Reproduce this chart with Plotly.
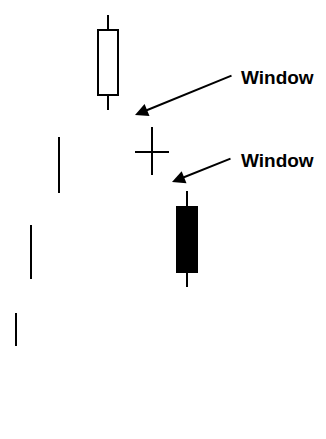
import plotly.graph_objects as go

# candle positions (horizontal) and prices
sessions = [16, 31, 59, 108, 152, 187]
highs = [126, 214, 302, 424, 312, 248]
lows = [93, 160, 246, 329, 264, 152]
opens = [110, 187, 274, 344, 287, 232]
closes = [110, 187, 274, 409, 287, 167]
kinds = ["line", "line", "line", "body", "doji", "body"]

# "Window" callouts: arrow head and tail, label position
arrow_head_x = [135, 172]
arrow_head_y = [324, 257]
arrow_tail_x = [233, 232]
arrow_tail_y = [364, 281]
label_x = [239, 239]
label_y = [362, 279]
labels = ["Window", "Window"]

BODY_W = 20
DOJI_W = 34

fig = go.Figure()

# wicks - split above and below the body so they don't cross white bodies
wx, wy = [], []
for x, h, l, o, c in zip(sessions, highs, lows, opens, closes):
    top, bot = max(o, c), min(o, c)
    wx += [x, x, None, x, x, None]
    wy += [h, top, None, bot, l, None]
fig.add_trace(go.Scatter(x=wx, y=wy, mode="lines", line=dict(color="black", width=2),
                         hoverinfo="skip", showlegend=False))

# real bodies
bx, bbase, bh, bcol = [], [], [], []
for x, o, c, k in zip(sessions, opens, closes, kinds):
    if k != "body":
        continue
    bx.append(x)
    bbase.append(min(o, c))
    bh.append(abs(c - o))
    bcol.append("white" if c > o else "black")
fig.add_trace(go.Bar(x=bx, y=bh, base=bbase, width=BODY_W, marker=dict(color=bcol, line=dict(color="black", width=2)),
                     showlegend=False, hoverinfo="skip"))

# doji cross bar
dx, dy = [], []
for x, o, k in zip(sessions, opens, kinds):
    if k == "doji":
        dx += [x - DOJI_W / 2, x + DOJI_W / 2, None]
        dy += [o, o, None]
fig.add_trace(go.Scatter(x=dx, y=dy, mode="lines", line=dict(color="black", width=2),
                         hoverinfo="skip", showlegend=False))

for hx, hy, tx, ty in zip(arrow_head_x, arrow_head_y, arrow_tail_x, arrow_tail_y):
    fig.add_annotation(x=hx, y=hy, ax=tx, ay=ty, xref="x", yref="y", axref="x", ayref="y",
                       showarrow=True, arrowhead=2, arrowsize=1.3, arrowwidth=2, arrowcolor="black", text="")
for lx, ly, t in zip(label_x, label_y, labels):
    fig.add_annotation(x=lx, y=ly, xref="x", yref="y", text="<b>" + t + "</b>", showarrow=False, xanchor="left",
                       yanchor="middle", font=dict(family="Liberation Sans, Arial", size=19, color="black"))

# page body has an 8px margin, so the figure is 8px smaller and the ranges start accordingly
fig.update_layout(width=318, height=431, margin=dict(l=0, r=0, t=0, b=0),
                  paper_bgcolor="white", plot_bgcolor="white", showlegend=False)
fig.update_xaxes(range=[8, 326], visible=False)
fig.update_yaxes(range=[0, 431], visible=False)

fig.write_html("out.html")
